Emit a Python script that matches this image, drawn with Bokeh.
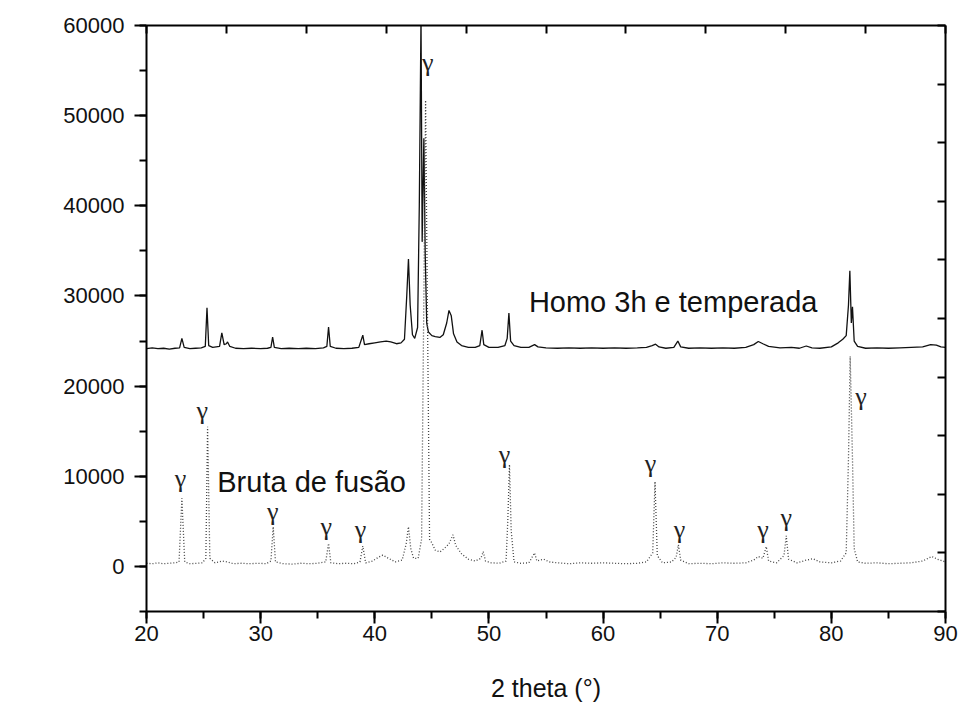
from bokeh.plotting import figure
from bokeh.models import (Range1d, LinearAxis, SingleIntervalTicker, FixedTicker, Label,
                          ColumnDataSource, CustomJSTickFormatter)
from bokeh.core.properties import value
from bokeh.embed import file_html
from bokeh.resources import INLINE

# ---- data: "Homo 3h e temperada" (solid) ----
homo_x = [20.0, 20.5, 21.0, 21.5, 22.0, 22.5, 22.9, 23.1, 23.3, 23.8, 24.3, 24.8, 25.15, 25.3, 25.45,
          25.8, 26.4, 26.6, 26.8, 27.0, 27.1, 27.3, 27.8, 28.5, 29.2, 30.0, 30.6, 30.9, 31.05, 31.2,
          31.8, 32.5, 33.3, 34.0, 34.8, 35.5, 35.8, 35.95, 36.1, 36.6, 37.3, 38.0, 38.6, 38.95, 39.1,
          39.5, 40.0, 40.5, 41.0, 41.4, 41.9, 42.3, 42.6, 42.8, 42.95, 43.1, 43.3, 43.5, 43.75, 43.9,
          44.05, 44.15, 44.3, 44.42, 44.55, 44.7, 45.0, 45.3, 45.7, 46.0, 46.3, 46.5, 46.7, 46.9, 47.2,
          47.6, 48.2, 48.8, 49.2, 49.4, 49.55, 50.0, 50.8, 51.4, 51.6, 51.75, 51.9, 52.2, 52.8, 53.5,
          54.0, 54.3, 55.0, 56.0, 57.0, 58.0, 59.0, 60.0, 61.0, 62.0, 63.0, 63.8, 64.3, 64.6, 64.9,
          65.5, 66.2, 66.55, 66.8, 67.5, 68.5, 69.5, 70.5, 71.5, 72.5, 73.2, 73.6, 74.0, 74.5, 75.5,
          76.5, 77.2, 77.8, 78.3, 79.0, 80.0, 80.6, 81.0, 81.3, 81.5, 81.62, 81.75, 81.85, 82.0, 82.3,
          83.0, 84.0, 85.0, 86.0, 87.0, 88.0, 88.7, 89.2, 89.6, 90.0]
homo_y = [24150, 24250, 24150, 24200, 24100, 24200, 24250, 25300, 24300, 24150, 24200, 24250, 24400, 28700, 24500,
          24300, 24400, 25900, 24600, 24700, 24900, 24400, 24200, 24150, 24200, 24150, 24200, 24300, 25450, 24300,
          24150, 24200, 24150, 24200, 24150, 24250, 24400, 26550, 24400, 24200, 24150, 24200, 24300, 25650, 24600,
          24700, 24800, 24900, 25000, 24900, 24700, 24800, 25200, 30000, 34100, 29000, 25700, 25300, 26500, 40000,
          61000, 36000, 47500, 34500, 27000, 26000, 25600, 25500, 25400, 25700, 27000, 28400, 27800, 25800, 24900,
          24500, 24300, 24300, 24500, 26200, 24600, 24300, 24300, 24500, 25300, 28100, 25000, 24500, 24300, 24300,
          24600, 24350, 24250, 24200, 24250, 24200, 24250, 24200, 24250, 24200, 24250, 24300, 24500, 24650, 24350,
          24200, 24300, 25000, 24350, 24200, 24250, 24200, 24250, 24200, 24300, 24600, 24950, 24700, 24400, 24250,
          24300, 24200, 24450, 24250, 24200, 24350, 24800, 25200, 25600, 29000, 32800, 27000, 28800, 25000, 24400,
          24200, 24250, 24200, 24250, 24300, 24350, 24600, 24550, 24350, 24300]

# ---- data: "Bruta de fusão" (dotted) ----
bruta_x = [20.0, 20.5, 21.0, 21.5, 22.0, 22.5, 22.85, 23.1, 23.35, 23.8, 24.4, 24.9, 25.2, 25.35, 25.55,
           26.0, 26.6, 27.1, 27.6, 28.3, 29.0, 29.8, 30.5, 30.9, 31.1, 31.3, 32.0, 32.8, 33.5, 34.3,
           35.0, 35.7, 35.95, 36.15, 36.8, 37.5, 38.2, 38.7, 38.95, 39.2, 39.8, 40.3, 40.7, 41.2, 41.8,
           42.4, 42.75, 42.95, 43.15, 43.4, 43.8, 44.1, 44.3, 44.45, 44.6, 44.8, 45.0, 45.3, 45.7, 46.1,
           46.5, 46.85, 47.1, 47.6, 48.2, 48.8, 49.3, 49.5, 49.7, 50.2, 50.9, 51.5, 51.65, 51.8, 51.95,
           52.2, 52.8, 53.5, 54.0, 54.2, 54.8, 55.3, 56.0, 57.0, 58.0, 59.0, 60.0, 61.0, 62.0, 63.0,
           63.8, 64.35, 64.55, 64.75, 65.2, 66.0, 66.4, 66.6, 66.8, 67.5, 68.5, 69.5, 70.5, 71.5, 72.5,
           73.2, 73.6, 74.0, 74.3, 74.5, 75.2, 75.85, 76.05, 76.25, 77.0, 77.8, 78.4, 79.0, 80.0, 80.8,
           81.3, 81.5, 81.65, 81.85, 82.0, 82.3, 83.0, 84.0, 85.0, 86.0, 87.0, 88.0, 88.8, 89.3, 90.0]
bruta_y = [350, 300, 400, 300, 350, 400, 500, 7550, 500, 300, 350, 400, 900, 15500, 900,
           400, 600, 500, 300, 350, 300, 350, 300, 600, 4400, 500, 300, 250, 350, 300,
           350, 500, 2550, 400, 300, 350, 300, 500, 2250, 400, 600, 1000, 1250, 900, 500,
           700, 2500, 4400, 2000, 900, 900, 3000, 30000, 51700, 30000, 3000, 2600, 1800, 1600, 2000,
           2500, 3500, 2300, 1400, 800, 600, 900, 1650, 600, 400, 350, 600, 5000, 11300, 4000,
           500, 350, 400, 1500, 600, 800, 500, 400, 300, 400, 350, 400, 350, 300, 350,
           500, 1500, 9400, 1200, 400, 500, 1000, 2400, 700, 300, 350, 300, 400, 350, 400,
           700, 1100, 900, 2200, 600, 400, 1200, 3400, 800, 400, 700, 850, 500, 400, 600,
           1500, 12000, 23300, 12000, 2000, 500, 350, 400, 300, 350, 400, 600, 1100, 800, 500]

# ---- gamma peak markers ----
gamma_x = [22.98, 24.88, 31.07, 35.74, 38.75, 44.65, 51.37, 64.16, 66.7, 74.0, 76.04, 82.6]
gamma_y = [9783, 17350, 6083, 4420, 4055, 55940, 12364, 11445, 4130, 4130, 5460, 18900]
gamma_t = ["γ"] * len(gamma_x)

x_major = 10
y_major = 10000
top_ticks = [20, 27, 34, 41, 48, 55, 62, 69, 76, 83, 90]
right_ticks = [-5000, 1500, 8000, 14500, 21000, 27500, 34000, 40500, 47000, 53500, 60000]

FONT = "Liberation Sans"

p = figure(width=961, height=704, output_backend="svg", toolbar_location=None,
           x_range=Range1d(20, 90), y_range=Range1d(-5000, 60000),
           min_border_left=146, min_border_right=16, min_border_top=25, min_border_bottom=92)
p.grid.visible = False
p.outline_line_color = None
p.background_fill_color = "white"
p.border_fill_color = "white"

p.line(homo_x, homo_y, line_color="#111111", line_width=1.3)
p.line(bruta_x, bruta_y, line_color="#444444", line_width=1.3, line_dash="1 2")

src = ColumnDataSource(dict(x=gamma_x, y=gamma_y, t=gamma_t))
p.text(x="x", y="y", text="t", source=src, text_font=value("Liberation Serif"),
       text_font_size="26px", text_align="center", text_baseline="middle", text_color="#222222")

p.add_layout(Label(x=53.5, y=29300, text="Homo 3h e temperada", text_font=FONT,
                   text_font_size="29px", text_color="#111111", text_baseline="alphabetic"))
p.add_layout(Label(x=26.2, y=9350, text="Bruta de fusão", text_font=FONT,
                   text_font_size="29px", text_color="#111111", text_baseline="alphabetic"))
p.add_layout(Label(x=9.1, y=31750, text="Intensidade", text_font=FONT, angle=90, angle_units="deg",
                   text_font_size="25px", text_color="#111111", text_align="center",
                   text_baseline="middle"))

xa = p.xaxis[0]
xa.ticker = SingleIntervalTicker(interval=x_major, num_minor_ticks=2)
xa.axis_label = "2 theta (°)"
ya = p.yaxis[0]
ya.ticker = SingleIntervalTicker(interval=y_major, num_minor_ticks=2)

for ax in (xa, ya):
    ax.axis_line_width = 2
    ax.axis_line_color = "black"
    ax.major_tick_line_width = 2
    ax.minor_tick_line_width = 2
    ax.major_tick_line_color = "black"
    ax.minor_tick_line_color = "black"
    ax.major_tick_in = 0
    ax.minor_tick_in = 0
    ax.major_tick_out = 12
    ax.minor_tick_out = 7
    ax.major_label_text_font = FONT
    ax.major_label_text_font_size = "22px"
    ax.major_label_text_color = "#111111"
    ax.axis_label_text_font = FONT
    ax.axis_label_text_font_size = "25px"
    ax.axis_label_text_font_style = "normal"
    ax.axis_label_text_color = "#111111"
ya.major_label_standoff = 10
xa.major_label_standoff = 2
xa.axis_label_standoff = 30

empty = CustomJSTickFormatter(code="return ''")
top = LinearAxis(ticker=FixedTicker(ticks=top_ticks, minor_ticks=[]), formatter=empty)
right = LinearAxis(ticker=FixedTicker(ticks=right_ticks, minor_ticks=[]), formatter=empty)
for ax in (top, right):
    ax.axis_line_width = 2
    ax.axis_line_color = "black"
    ax.major_tick_line_width = 2
    ax.major_tick_in = 8
    ax.major_tick_out = 0
    ax.minor_tick_in = 0
    ax.minor_tick_out = 0
    ax.major_label_standoff = 0
p.add_layout(top, "above")
p.add_layout(right, "right")

open("out.html", "w").write(file_html(p, INLINE))
